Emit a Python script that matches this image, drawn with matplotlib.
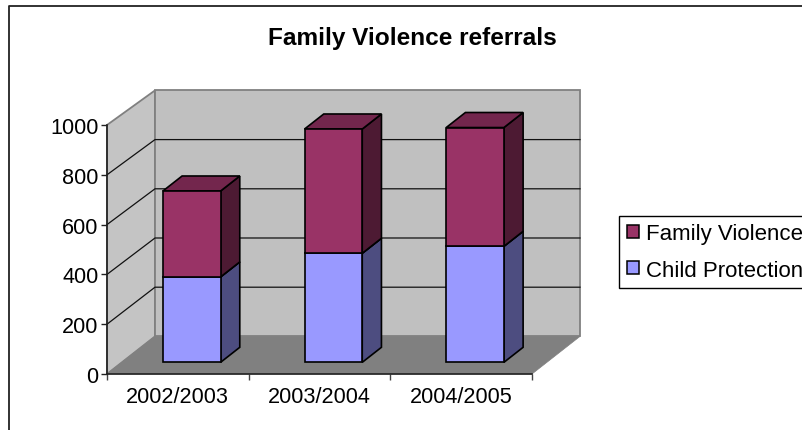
import matplotlib
matplotlib.use("Agg")
import matplotlib.pyplot as plt
from matplotlib.patches import Polygon, Patch

plt.rcParams['font.family'] = ['Liberation Sans', 'DejaVu Sans']

years = ["2002/2003", "2003/2004", "2004/2005"]
child_protection = [343, 438, 466]
family_violence = [345, 499, 477]
y_ticks = [0, 200, 400, 600, 800, 1000]

W, H = 803, 431
# depth of the fake 3d box, in data units of the front plane
DX = 48 / 141.67
DY = 151
BAR_WIDTH = 57.7 / 141.67
BAR_LEFT = 41 / 141.67
BAR_NEAR, BAR_FAR = 0.31, 0.71

FS = 15.6

fig = plt.figure(figsize=(W / 100, H / 100), dpi=100)
ax = fig.add_axes([107 / W, 1 - 375 / H, 425 / W, 249 / H])
ax.set_xlim(0, 3)
ax.set_ylim(0, 1000)
ax.patch.set_visible(False)


def back_y(v):
    return DY + v * 0.988


def poly(points, color, edge="none", lw=0, z=1):
    ax.add_patch(Polygon(points, closed=True, facecolor=color, edgecolor=edge,
                         linewidth=lw, zorder=z, clip_on=False, joinstyle="miter"))


# walls and floor
poly([(0, 0), (DX, back_y(0)), (DX, back_y(1000)), (0, 1000)], "#c4c4c4", "#808080", 1.3)
poly([(DX, back_y(0)), (3 + DX, back_y(0)), (3 + DX, back_y(1000)), (DX, back_y(1000))],
     "#c0c0c0", "#808080", 1.3)
poly([(0, 0), (3, 0), (3 + DX, back_y(0)), (DX, back_y(0))], "#808080", "#808080", 0.5, z=1.5)

for v in y_ticks[1:-1]:
    ax.plot([0, DX, 3 + DX], [v, back_y(v), back_y(v)], color="#111111", lw=0.9,
            clip_on=False, zorder=2)


def draw_box(x0, low, high, front, side, top):
    x1 = x0 + BAR_WIDTH
    ox0, oy0 = DX * BAR_NEAR, DY * BAR_NEAR
    ox1, oy1 = DX * BAR_FAR, DY * BAR_FAR
    edge = "black"
    poly([(x1 + ox0, low + oy0), (x1 + ox1, low + oy1), (x1 + ox1, high + oy1), (x1 + ox0, high + oy0)],
         side, edge, 1.2, z=3)
    poly([(x0 + ox0, high + oy0), (x1 + ox0, high + oy0), (x1 + ox1, high + oy1), (x0 + ox1, high + oy1)],
         top, edge, 1.2, z=3)
    poly([(x0 + ox0, low + oy0), (x1 + ox0, low + oy0), (x1 + ox0, high + oy0), (x0 + ox0, high + oy0)],
         front, edge, 1.2, z=4)


for i in range(len(years)):
    x0 = i + BAR_LEFT
    cp = child_protection[i]
    fv = family_violence[i]
    draw_box(x0, 0, cp, "#9999ff", "#4d4d80", "#7a7acc")
    draw_box(x0, cp, cp + fv, "#993366", "#4d1a33", "#73264d")

# axes
for s in ["top", "right"]:
    ax.spines[s].set_visible(False)
for s in ["left", "bottom"]:
    ax.spines[s].set_color("#222222")
    ax.spines[s].set_linewidth(1.2)
    ax.spines[s].set_zorder(5)
ax.set_yticks(y_ticks)
ax.tick_params(axis="y", length=4, width=1, color="#222222", labelsize=FS, pad=2)
ax.set_xticks([0, 1, 2, 3])
ax.set_xticklabels([])
ax.set_xticks([0.5, 1.5, 2.5], years, minor=True)
ax.tick_params(axis="x", which="major", length=4.5, width=1, color="#444444")
ax.tick_params(axis="x", which="minor", length=0, labelsize=FS, pad=9)

fig.text(412 / W, 1 - 38 / H, "Family Violence referrals", fontsize=17.6, fontweight="bold",
         ha="center", va="center")

# outer chart border, runs off the picture on the right and bottom
fig.add_artist(plt.Line2D([9 / W, 9 / W, 1.01], [-0.01, 1 - 6.5 / H, 1 - 6.5 / H],
                          transform=fig.transFigure, color="#222222", lw=1.3))

handles = [Patch(facecolor="#993366", edgecolor="black", linewidth=1.1),
           Patch(facecolor="#9999ff", edgecolor="black", linewidth=1.1)]
leg = fig.legend(handles, ["Family Violence", "Child Protection"], loc="upper left",
                 bbox_to_anchor=(619.5 / W, 1 - 216.5 / H), fontsize=16, frameon=True,
                 fancybox=False, edgecolor="black", framealpha=1, borderaxespad=0,
                 borderpad=0.34, handlelength=0.54, handleheight=0.54, handletextpad=0.31,
                 labelspacing=0.7)
leg.get_frame().set_linewidth(1.0)

fig.savefig("out.png", dpi=100)
